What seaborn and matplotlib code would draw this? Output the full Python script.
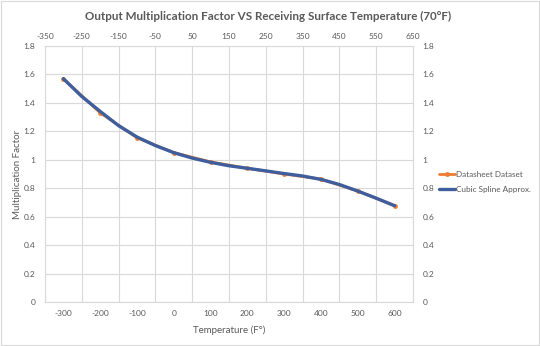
import matplotlib
matplotlib.use("Agg")
import matplotlib.pyplot as plt
import seaborn as sns
import pandas as pd

# Data
temps = [-300, -200, -100, 0, 100, 200, 300, 400, 500, 600]
factors = [1.57, 1.33, 1.155, 1.05, 0.985, 0.94, 0.90, 0.864, 0.78, 0.677]

spline_temps = [-300, -250, -200, -150, -100, -50, 0, 50, 100, 150, 200, 250,
                300, 350, 400, 450, 500, 550, 600]
spline_vals = [1.57, 1.445, 1.34, 1.24, 1.16, 1.10, 1.05, 1.012, 0.982, 0.958,
               0.94, 0.922, 0.903, 0.886, 0.862, 0.826, 0.78, 0.73, 0.677]

bottom_ticks = [-300, -200, -100, 0, 100, 200, 300, 400, 500, 600]
top_ticks = [-350, -250, -150, -50, 50, 150, 250, 350, 450, 550, 650]
y_ticks = [0, 0.2, 0.4, 0.6, 0.8, 1, 1.2, 1.4, 1.6, 1.8]
y_labels = ["0", "0.2", "0.4", "0.6", "0.8", "1", "1.2", "1.4", "1.6", "1.8"]

sns.set_theme(style="white")
plt.rcParams["font.family"] = ["Lato", "DejaVu Sans"]

gray = "#595959"
grid = "#d9d9d9"
orange = "#ED7D31"
blue = "#3F5E9E"

fig = plt.figure(figsize=(5.4, 3.46), dpi=100)
ax = fig.add_axes([45/540, 1-302/346, (413-45)/540, (302-46)/346])

df1 = pd.DataFrame({"T": temps, "F": factors})
df2 = pd.DataFrame({"T": spline_temps, "F": spline_vals})

sns.lineplot(data=df1, x="T", y="F", ax=ax, color=orange, lw=2.0,
             marker="o", markersize=3.5, markeredgewidth=0,
             label="Datasheet Dataset")
sns.lineplot(data=df2, x="T", y="F", ax=ax, color=blue, lw=2.4,
             label="Cubic Spline Approx.")

ax.set_xlim(-350, 650)
ax.set_ylim(0, 1.8)
ax.set_xticks(bottom_ticks)
ax.set_xticklabels([str(t) for t in bottom_ticks])
ax.set_yticks(y_ticks)
ax.set_yticklabels(y_labels)
ax.tick_params(axis="both", length=0, labelsize=6, colors=gray, pad=6)
ax.tick_params(axis="y", labelright=True, right=False, pad=7)
ax.grid(False)
ax.set_axisbelow(True)
for t in top_ticks:
    ax.axvline(t, color=grid, lw=0.8, zorder=0)
for y in y_ticks:
    ax.axhline(y, color=grid, lw=0.8, zorder=0)
for s in ax.spines.values():
    s.set_color(grid)
    s.set_linewidth(0.8)

top = ax.secondary_xaxis("top")
top.set_xticks(top_ticks)
top.set_xticklabels([str(t) for t in top_ticks])
top.tick_params(length=0, labelsize=6, colors=gray, pad=4)
top.spines["top"].set_visible(False)

ax.set_xlabel("Temperature (F°)", fontsize=7, color=gray, labelpad=6)
ax.set_ylabel("Multiplication Factor", fontsize=7, color=gray, labelpad=1)

fig.text(0.497, 1-16/346, "Output Multiplication Factor VS Receiving Surface Temperature (70°F)",
         ha="center", va="center", fontsize=8.4, fontweight="bold", color=gray)

leg = ax.legend(loc="center left", bbox_to_anchor=(1.07, 0.47), frameon=False,
                borderaxespad=0, borderpad=0,
                fontsize=5.9, handlelength=2.0, labelspacing=1.0, handletextpad=0.15)
for txt in leg.get_texts():
    txt.set_color(gray)

fig.patches.append(plt.Rectangle((0.002, 0.003), 0.996, 0.994, transform=fig.transFigure,
                                 fill=False, edgecolor="#d9d9d9", lw=0.8))

fig.savefig("out.png", dpi=100)
